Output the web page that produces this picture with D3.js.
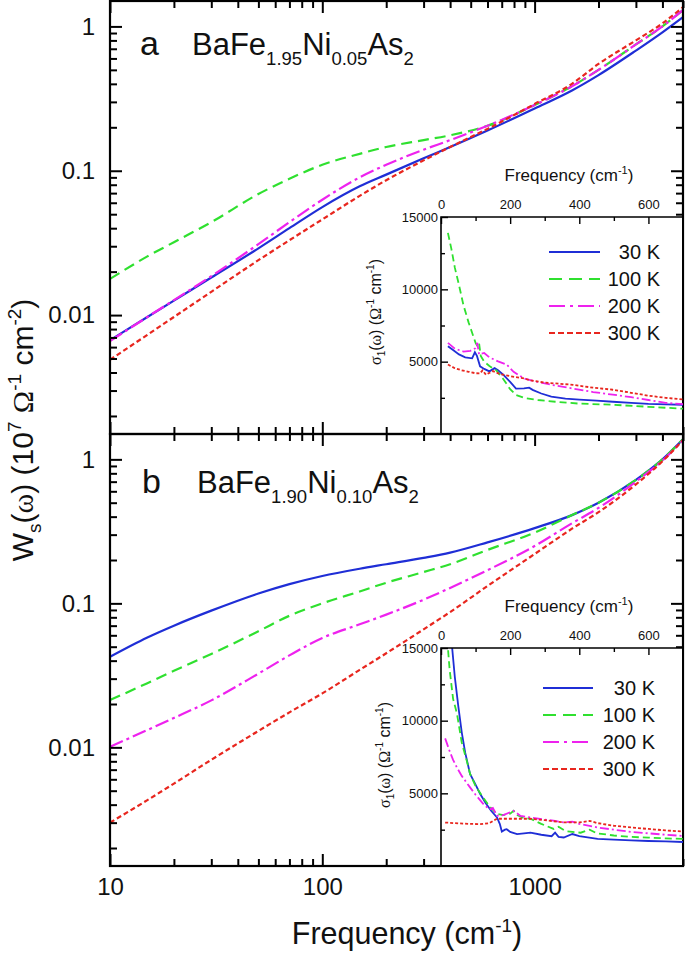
<!DOCTYPE html>
<html><head><meta charset="utf-8">
<script src="https://cdn.jsdelivr.net/npm/d3@7"></script>
<style>
html,body{margin:0;padding:0;background:#fff;}
svg text{font-family:"Liberation Sans",Arial,sans-serif;fill:#111;}
</style></head>
<body><svg id="c" width="685" height="955"></svg>
<script>
// ---------- data ----------
const series = ["30 K","100 K","200 K","300 K"];
const colors = ["#1f2ed6","#2fe02f","#ee22ee","#e8261e"];
const xTickLabels = ["10","100","1000"];
const yTickLabels = ["0.01","0.1","1"];
const insetXTickLabels = ["0","200","400","600"];
const insetYTickLabels = ["5000","10000","15000"];

const freq = [10,15,20,30,50,70,100,150,200,300,400,600,1000,1500,2000,3000,4000,5000];
// panel a : BaFe1.95Ni0.05As2
const a30  = [0.0067,0.0097,0.0126,0.0182,0.029,0.040,0.056,0.078,0.094,0.122,0.146,0.190,0.27,0.36,0.46,0.68,0.91,1.16];
const a100 = [0.0178,0.0255,0.032,0.044,0.069,0.088,0.110,0.131,0.146,0.163,0.176,0.205,0.285,0.385,0.50,0.75,1.0,1.30];
const a200 = [0.0066,0.0097,0.0127,0.0186,0.031,0.044,0.063,0.090,0.110,0.140,0.163,0.205,0.285,0.385,0.50,0.75,1.0,1.30];
const a300 = [0.0049,0.0073,0.0097,0.0145,0.024,0.033,0.046,0.067,0.086,0.118,0.146,0.195,0.29,0.40,0.55,0.80,1.05,1.36];
// panel b : BaFe1.90Ni0.10As2
const b30  = [0.0426,0.058,0.070,0.089,0.117,0.136,0.155,0.174,0.187,0.207,0.225,0.265,0.333,0.41,0.50,0.72,1.0,1.38];
const b100 = [0.0213,0.0279,0.0340,0.0445,0.064,0.082,0.100,0.121,0.139,0.165,0.187,0.235,0.31,0.41,0.50,0.72,1.0,1.38];
const b200 = [0.0101,0.0132,0.0160,0.0212,0.0325,0.0435,0.0575,0.0715,0.0835,0.106,0.128,0.170,0.25,0.36,0.46,0.70,0.98,1.36];
const b300 = [0.0030,0.0043,0.0056,0.0082,0.0130,0.0175,0.0237,0.0345,0.045,0.066,0.087,0.132,0.22,0.33,0.43,0.67,0.97,1.36];

// insets: sigma1(omega) [freq, value]
const ia30  = [[20,6070],[35,5800],[52,5500],[70,5300],[90,5230],[98,5650],[104,5400],[113,4680],[125,4500],[140,4330],[155,4550],[165,4400],[180,4100],[200,3600],[217,3140],[240,3150],[255,3200],[265,3050],[290,2800],[319,2580],[360,2450],[400,2380],[450,2300],[497,2230],[550,2150],[600,2080],[650,2050],[706,2020]];
const ia100 = [[20,13900],[30,12800],[40,11500],[52,10300],[65,8900],[80,7700],[90,7000],[100,6300],[105,6100],[110,6300],[115,5400],[125,5000],[140,4700],[160,4400],[180,3800],[200,3100],[217,2700],[240,2500],[280,2350],[331,2230],[400,2100],[497,2020],[600,1880],[706,1740]];
const ia200 = [[20,6300],[40,5900],[65,5700],[85,5750],[100,5930],[105,6300],[110,5500],[125,5600],[140,5300],[165,5020],[190,4800],[210,4300],[240,3840],[280,3600],[330,3350],[382,3140],[440,2900],[497,2720],[550,2550],[600,2350],[650,2150],[706,2050]];
const ia300 = [[20,4800],[40,4550],[60,4400],[80,4300],[100,4200],[113,4190],[120,4400],[130,4100],[150,4350],[170,4150],[200,4000],[240,3840],[260,3700],[300,3550],[382,3400],[440,3200],[497,3060],[550,2850],[600,2650],[650,2500],[706,2370]];

const ib30  = [[30,15600],[40,13000],[50,11000],[60,9200],[70,7800],[84,6340],[100,5600],[113,4970],[130,4300],[145,3800],[162,3340],[170,2900],[176,2370],[185,2500],[190,2530],[200,2350],[220,2200],[240,2250],[259,2300],[290,2150],[320,2050],[330,2300],[340,2000],[355,1960],[380,2200],[400,2050],[453,1870],[500,1820],[550,1760],[600,1720],[650,1690],[700,1650]];
const ib100 = [[18,15600],[25,13500],[35,11500],[46,10500],[60,8500],[75,7200],[84,6340],[100,5500],[122,4700],[140,4100],[162,3580],[180,3500],[200,3600],[210,3800],[220,3500],[240,3300],[259,3250],[290,2900],[326,2550],[340,2700],[360,2400],[380,2350],[404,2290],[430,2500],[450,2250],[500,2100],[550,2000],[600,1950],[650,1900],[700,1870]];
const ib200 = [[12,8780],[25,7900],[35,7300],[46,6780],[60,6200],[84,5410],[100,4900],[122,4280],[140,3900],[150,4000],[162,3460],[180,3500],[200,3700],[210,3800],[230,3450],[259,3340],[300,3200],[330,3100],[355,3000],[380,3050],[400,2900],[453,2650],[500,2500],[550,2350],[600,2250],[650,2150],[700,2070]];
const ib300 = [[12,2990],[40,2950],[80,2900],[113,2880],[140,2950],[162,3250],[200,3250],[259,3250],[300,3150],[355,3000],[400,3000],[430,3100],[453,2950],[500,2770],[550,2650],[600,2550],[650,2450],[700,2370]];

// ---------- drawing ----------
const svg = d3.select("#c");
svg.append("rect").attr("width",685).attr("height",955).attr("fill","#fff");

const L=110, R=683;
const x = d3.scaleLog().domain([10,5000]).range([L,R]);
const dashes = [null,"11,6","14,4,3,4","5,3"];

const panels = [
  {top:1, bot:434, data:[a30,a100,a200,a300], ins:[ia30,ia100,ia200,ia300], name:["1.95","0.05"], lab:"a", lx:140, tx:192, base:55, showX:false, insTop:217,
   sigX:381, sigY:312, legY:252, legX1:549, legX2:600, legT:660},
  {top:434, bot:866, data:[b30,b100,b200,b300], ins:[ib30,ib100,ib200,ib300], name:["1.90","0.10"], lab:"b", lx:142, tx:197, base:493, showX:true, insTop:648,
   sigX:390, sigY:755, legY:688, legX1:543, legX2:593, legT:655}
];

const majorX = [10,100,1000];
const minorX = x.ticks().filter(v => !majorX.includes(v));

panels.forEach((p,pi) => {
  const y = d3.scaleLog().domain([0.0015,1.5]).range([p.bot,p.top]);
  const majorY = [0.01,0.1,1];
  const minorY = y.ticks().filter(v => !majorY.some(m=>Math.abs(m-v)<1e-9));
  const g = svg.append("g");
  const clipId = "clip"+pi;
  svg.append("clipPath").attr("id",clipId).append("rect").attr("x",L).attr("y",p.top).attr("width",R-L).attr("height",p.bot-p.top);

  // curves
  const line = d3.line().x((d,i)=>x(freq[i])).y(d=>y(d)).curve(d3.curveMonotoneX);
  p.data.forEach((s,i)=>{
    g.append("path").attr("d",line(s)).attr("fill","none").attr("stroke",colors[i])
      .attr("stroke-width",2.2).attr("stroke-dasharray",dashes[i]).attr("clip-path",`url(#${clipId})`);
  });

  // axes ticks (inward)
  const axStyle = sel => { sel.select(".domain").remove(); sel.selectAll("line").attr("stroke","#000").attr("stroke-width",2); };
  g.append("g").attr("transform",`translate(0,${p.bot})`).call(d3.axisBottom(x).tickValues(minorX).tickSize(-7).tickFormat("")).call(axStyle);
  const bx = g.append("g").attr("transform",`translate(0,${p.bot})`)
    .call(d3.axisBottom(x).tickValues(majorX).tickSize(-12).tickPadding(12).tickFormat((d,i)=>p.showX?xTickLabels[i]:"")).call(axStyle);
  bx.selectAll("text").attr("font-size",24).attr("font-family","Liberation Sans, Arial, sans-serif").attr("fill","#111");
  g.append("g").attr("transform",`translate(0,${p.top})`).call(d3.axisTop(x).tickValues(minorX).tickSize(-7).tickFormat("")).call(axStyle);
  g.append("g").attr("transform",`translate(0,${p.top})`).call(d3.axisTop(x).tickValues(majorX).tickSize(-12).tickFormat("")).call(axStyle);
  g.append("g").attr("transform",`translate(${L},0)`).call(d3.axisLeft(y).tickValues(minorY).tickSize(-7).tickFormat("")).call(axStyle);
  const ly = g.append("g").attr("transform",`translate(${L},0)`)
    .call(d3.axisLeft(y).tickValues(majorY).tickSize(-12).tickPadding(15).tickFormat((d,i)=>yTickLabels[i])).call(axStyle);
  ly.selectAll("text").attr("font-size",24).attr("font-family","Liberation Sans, Arial, sans-serif").attr("fill","#111");
  g.append("g").attr("transform",`translate(${R},0)`).call(d3.axisRight(y).tickValues(minorY).tickSize(-7).tickFormat("")).call(axStyle);
  g.append("g").attr("transform",`translate(${R},0)`).call(d3.axisRight(y).tickValues(majorY).tickSize(-12).tickFormat("")).call(axStyle);

  // frame
  g.append("rect").attr("x",L).attr("y",p.top).attr("width",R-L).attr("height",p.bot-p.top)
    .attr("fill","none").attr("stroke","#000").attr("stroke-width",2.2);

  // panel label + compound
  g.append("text").attr("x",p.lx).attr("y",p.base).attr("font-size",34).text(p.lab);
  const t = g.append("text").attr("x",p.tx).attr("y",p.base).attr("font-size",31);
  t.append("tspan").text("BaFe");
  t.append("tspan").attr("font-size",18.5).attr("dy",10).text(p.name[0]);
  t.append("tspan").attr("dy",-10).text("Ni");
  t.append("tspan").attr("font-size",18.5).attr("dy",10).text(p.name[1]);
  t.append("tspan").attr("dy",-10).text("As");
  t.append("tspan").attr("font-size",18.5).attr("dy",10).text("2");

  // ---------- inset ----------
  const IL = 441;
  const xi = d3.scaleLinear().domain([0,700]).range([IL,R]);
  const yi = d3.scaleLinear().domain([0,15000]).range([p.bot,p.insTop]);
  const gi = svg.append("g");
  gi.append("rect").attr("x",IL).attr("y",p.insTop).attr("width",R-IL-1).attr("height",p.bot-p.insTop-1).attr("fill","#fff");
  const iclip = "iclip"+pi;
  svg.append("clipPath").attr("id",iclip).append("rect").attr("x",IL).attr("y",p.insTop).attr("width",R-IL).attr("height",p.bot-p.insTop);
  const iline = d3.line().x(d=>xi(d[0])).y(d=>yi(d[1]));
  p.ins.forEach((s,i)=>{
    gi.append("path").attr("d",iline(s)).attr("fill","none").attr("stroke",colors[i]).attr("stroke-width",1.8)
      .attr("stroke-dasharray",[null,"7,4","9,3,2,3","3,2"][i]).attr("clip-path",`url(#${iclip})`);
  });
  const iax = sel => { sel.select(".domain").remove(); sel.selectAll("line").attr("stroke","#000").attr("stroke-width",1.4);
    sel.selectAll("text").attr("font-size",13).attr("font-family","Liberation Sans, Arial, sans-serif").attr("fill","#111"); };
  gi.append("g").attr("transform",`translate(0,${p.insTop})`).call(d3.axisTop(xi).tickValues([100,300,500]).tickSize(-4).tickFormat("")).call(iax);
  gi.append("g").attr("transform",`translate(0,${p.insTop})`).call(d3.axisTop(xi).tickValues([0,200,400,600]).tickSize(-7).tickPadding(8).tickFormat((d,i)=>insetXTickLabels[i])).call(iax);
  gi.append("g").attr("transform",`translate(${IL},0)`).call(d3.axisLeft(yi).tickValues([2500,7500,12500]).tickSize(-4).tickFormat("")).call(iax);
  gi.append("g").attr("transform",`translate(${IL},0)`).call(d3.axisLeft(yi).tickValues([5000,10000,15000]).tickSize(-7).tickPadding(3).tickFormat((d,i)=>insetYTickLabels[i])).call(iax);
  gi.append("path").attr("d",`M${IL},${p.bot}V${p.insTop}H${R}`).attr("fill","none").attr("stroke","#000").attr("stroke-width",1.6);

  // inset x title
  const ft = gi.append("text").attr("x",569).attr("y",p.insTop-36).attr("font-size",17).attr("text-anchor","middle");
  ft.append("tspan").text("Frequency (cm");
  ft.append("tspan").attr("font-size",11).attr("dy",-7).text("-1");
  ft.append("tspan").attr("dy",7).text(")");
  // inset y title
  const st = gi.append("text").attr("transform",`translate(${p.sigX},${p.sigY}) rotate(-90)`).attr("font-size",16).attr("text-anchor","middle");
  st.append("tspan").attr("font-family","Liberation Serif, serif").text("σ");
  st.append("tspan").attr("font-size",10).attr("dy",4).text("1");
  st.append("tspan").attr("dy",-4).text("(");
  st.append("tspan").attr("font-family","Liberation Serif, serif").text("ω");
  st.append("tspan").text(") (");
  st.append("tspan").attr("font-family","Liberation Serif, serif").text("Ω");
  st.append("tspan").attr("font-size",10).attr("dy",-7).text("-1");
  st.append("tspan").attr("dy",7).text(" cm");
  st.append("tspan").attr("font-size",10).attr("dy",-7).text("-1");
  st.append("tspan").attr("dy",7).text(")");

  // legend
  series.forEach((s,i)=>{
    const yy = p.legY + i*27;
    gi.append("line").attr("x1",p.legX1).attr("x2",p.legX2).attr("y1",yy).attr("y2",yy)
      .attr("stroke",colors[i]).attr("stroke-width",2.2).attr("stroke-dasharray",[null,"13,7","16,5,3,5","6,3"][i]);
    gi.append("text").attr("x",p.legT).attr("y",yy+7).attr("font-size",20).attr("text-anchor","end").text(s);
  });
});

// main axis titles
const xl = svg.append("text").attr("x",407).attr("y",944).attr("font-size",30.5).attr("text-anchor","middle");
xl.append("tspan").text("Frequency (cm");
xl.append("tspan").attr("font-size",19).attr("dy",-12).text("-1");
xl.append("tspan").attr("dy",12).text(")");

const yl = svg.append("text").attr("transform","translate(33,430) rotate(-90)").attr("font-size",30).attr("text-anchor","middle");
yl.append("tspan").text("W");
yl.append("tspan").attr("font-size",19).attr("dy",8).text("s");
yl.append("tspan").attr("dy",-8).text("(");
yl.append("tspan").attr("font-family","Liberation Serif, serif").text("ω");
yl.append("tspan").text(") (10");
yl.append("tspan").attr("font-size",19).attr("dy",-12).text("7");
yl.append("tspan").attr("dy",12).text(" ");
yl.append("tspan").attr("font-family","Liberation Serif, serif").text("Ω");
yl.append("tspan").attr("font-size",19).attr("dy",-12).text("-1");
yl.append("tspan").attr("dy",12).text(" cm");
yl.append("tspan").attr("font-size",19).attr("dy",-12).text("-2");
yl.append("tspan").attr("dy",12).text(")");
</script></body></html>
